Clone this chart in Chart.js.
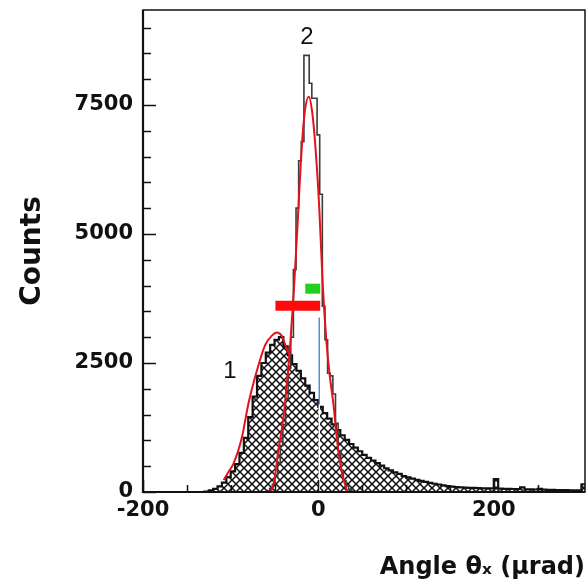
<!DOCTYPE html>
<html><head><meta charset="utf-8">
<script src="https://cdn.jsdelivr.net/npm/chart.js@4.4.1/dist/chart.umd.min.js"></script>
<style>html,body{margin:0;padding:0;background:#fff}canvas{display:block}</style>
</head><body>
<canvas id="c" width="588" height="586"></canvas>
<script>
// ---- data ----
// histogram 1 (hatched): left bin edge start, bin width, counts per bin
const hist1Start = -135, hist1BinWidth = 5;
const hist1Counts = [0,10,30,60,110,180,290,400,540,760,1050,1450,1850,2250,2500,2700,2850,2950,3000,2820,
  2650,2480,2350,2200,2060,1920,1780,1650,1530,1420,1310,1200,1100,1010,930,860,790,720,660,610,
  560,510,460,420,380,350,310,285,260,235,215,195,175,160,145,130,115,105,95,90,
  85,80,78,75,72,70,70,250,65,62,60,58,55,90,52,50,48,60,45,42,
  40,38,36,35,33,32,30,150];
// histogram 2 (narrow peak)
const hist2Start = -61.5, hist2BinWidth = 3;
const hist2Counts = [0,30,70,150,300,550,900,1300,1800,2400,3000,4310,5500,6420,6790,8460,8460,7920,7630,7630,
  6920,5770,3600,2950,2300,2250,1900,1330,800,420,220,110,50,20,0];
// fit curves (red)
const fit1X = [-108,-103,-96.8,-87.2,-79.7,-70,-60.6,-53,-47.2,-42,-37.7,-33];
const fit1Y = [230,380,550,1060,1720,2360,2850,3030,3090,3030,2850,2650];
const fit2X = [-58,-53,-50,-45.7,-41,-37.7,-32,-28,-24,-20,-16,-11,-7,-3,1,5,9,13,17.5,21.3,27,33];
const fit2Y = [0,50,250,800,1300,1780,2890,3900,5100,6400,7300,7660,7350,6600,5500,4000,2950,2250,1650,1000,355,0];
// markers
const redBarX = [-49, 2], redBarY = 3610;
const greenBarX = [-15, 2], greenBarY = 3940;
const blueLineX = 1, blueLineY = [1700, 3380], whiteLineY = [0, 1700];
// axes
const xRange = [-200, 304], yRange = [0, 9340];
const xTickStep = 50, yTickStep = 500;
const xTickLabels = [-200, 0, 200];
const yTickLabels = [0, 2500, 5000, 7500];
const peakLabels = [{text:'1', x:-101, y:2330}, {text:'2', x:-13, y:8800}];

// ---- build step points (left edges, closed at the far edge) ----
function stepPoints(start, w, counts){
  const pts = counts.map((c,i)=>({x:start+i*w, y:c}));
  pts.push({x:start+counts.length*w, y:0});
  return pts;
}
function xy(xs, ys){ return xs.map((x,i)=>({x, y:ys[i]})); }
function tickList(lo, hi, step){
  const out = [];
  for (let v = Math.ceil(lo/step)*step; v <= hi; v += step) out.push({value:v});
  return out;
}

function hatch(){
  const n = 8, c = document.createElement('canvas'); c.width = c.height = n;
  const g = c.getContext('2d');
  g.fillStyle = '#fff'; g.fillRect(0,0,n,n);
  g.strokeStyle = '#111'; g.lineWidth = 1.5;
  g.beginPath();
  g.moveTo(-1,-1); g.lineTo(n+1,n+1);
  g.moveTo(n+1,-1); g.lineTo(-1,n+1);
  g.stroke();
  return g.createPattern(c,'repeat');
}

const FONT = 'DejaVu Sans';
const decor = {
  id:'decor',
  afterDraw(chart){
    const {ctx, chartArea:a, scales:{x, y}} = chart;
    ctx.save();
    ctx.strokeStyle = '#111'; ctx.lineWidth = 1.5;
    y.ticks.forEach(t=>{
      const p = Math.round(y.getPixelForValue(t.value)) + 0.5;
      const L = yTickLabels.includes(t.value) ? 13 : 8;
      ctx.beginPath(); ctx.moveTo(a.left, p); ctx.lineTo(a.left + L, p); ctx.stroke();
    });
    x.ticks.forEach(t=>{
      const p = Math.round(x.getPixelForValue(t.value)) + 0.5;
      const L = xTickLabels.includes(t.value) ? 12 : 7;
      ctx.beginPath(); ctx.moveTo(p, a.bottom); ctx.lineTo(p, a.bottom - L); ctx.stroke();
    });
    ctx.lineWidth = 1.5;
    ctx.strokeRect(a.left, a.top, a.right - a.left, a.bottom - a.top);
    ctx.lineWidth = 2.2;
    ctx.beginPath(); ctx.moveTo(a.left, a.top); ctx.lineTo(a.left, a.bottom); ctx.lineTo(a.right, a.bottom); ctx.stroke();
    ctx.fillStyle = '#111';
    ctx.font = '24px "Liberation Sans"';
    ctx.textAlign = 'center'; ctx.textBaseline = 'middle';
    peakLabels.forEach(l => ctx.fillText(l.text, x.getPixelForValue(l.x), y.getPixelForValue(l.y)));
    ctx.restore();
  }
};

new Chart(document.getElementById('c'), {
  type: 'line',
  data: { datasets: [
    { label:'red bar', data: xy(redBarX, [redBarY, redBarY]), borderColor:'#ff0a0a', borderWidth:10, borderCapStyle:'butt', pointRadius:0, order:0 },
    { label:'green bar', data: xy(greenBarX, [greenBarY, greenBarY]), borderColor:'#1ed21e', borderWidth:10, borderCapStyle:'butt', pointRadius:0, order:0 },
    { label:'blue line', data: xy([blueLineX, blueLineX], blueLineY), borderColor:'#4f8fd6', borderWidth:1.5, pointRadius:0, order:1 },
    { label:'white line', data: xy([blueLineX, blueLineX], whiteLineY), borderColor:'#ffffff', borderWidth:1.5, pointRadius:0, order:1 },
    { label:'fit 1', data: xy(fit1X, fit1Y), borderColor:'#e3121b', borderWidth:2, pointRadius:0, cubicInterpolationMode:'monotone', order:2 },
    { label:'fit 2', data: xy(fit2X, fit2Y), borderColor:'#e3121b', borderWidth:2, pointRadius:0, cubicInterpolationMode:'monotone', order:2 },
    { label:'hist 2', data: stepPoints(hist2Start, hist2BinWidth, hist2Counts), stepped:true, borderColor:'#3c3c3c', borderWidth:1.6, pointRadius:0, fill:false, order:3 },
    { label:'hist 1', data: stepPoints(hist1Start, hist1BinWidth, hist1Counts), stepped:true, borderColor:'#111', borderWidth:2.2, pointRadius:0, fill:'origin', backgroundColor: hatch(), order:4 }
  ]},
  options: {
    responsive:false, animation:false,
    layout:{ padding:{ top:10, right:3, left:0, bottom:0 } },
    plugins:{ legend:{display:false}, tooltip:{enabled:false} },
    scales:{
      x:{ type:'linear', min:xRange[0], max:xRange[1],
        border:{display:false}, grid:{display:false, drawTicks:false},
        afterBuildTicks(s){ s.ticks = tickList(xRange[0], xRange[1], xTickStep); },
        ticks:{ autoSkip:false, maxRotation:0, padding:6, color:'#111',
          font:{family:FONT, weight:'bold', size:21},
          callback:v => xTickLabels.includes(v) ? String(v) : '' },
        title:{ display:true, text:'Angle θₓ (μrad)', align:'end', color:'#111',
          font:{family:FONT, weight:'bold', size:24}, padding:{top:0, bottom:4} },
        afterFit(s){ s.height = 94; s.paddingLeft = 0; s.paddingRight = 0; }
      },
      y:{ min:yRange[0], max:yRange[1],
        border:{display:false}, grid:{display:false, drawTicks:false},
        afterBuildTicks(s){ s.ticks = tickList(yRange[0], yRange[1], yTickStep); },
        ticks:{ autoSkip:false, padding:10, color:'#111',
          font:{family:FONT, weight:'bold', size:21},
          callback:v => yTickLabels.includes(v) ? String(v) : '' },
        title:{ display:true, text:'Counts', color:'#111',
          font:{family:FONT, weight:'bold', size:28}, padding:{top:16, bottom:0} },
        afterFit(s){ s.width = 143; s.paddingTop = 0; s.paddingBottom = 0; }
      }
    }
  },
  plugins:[decor]
});
</script>
</body></html>
